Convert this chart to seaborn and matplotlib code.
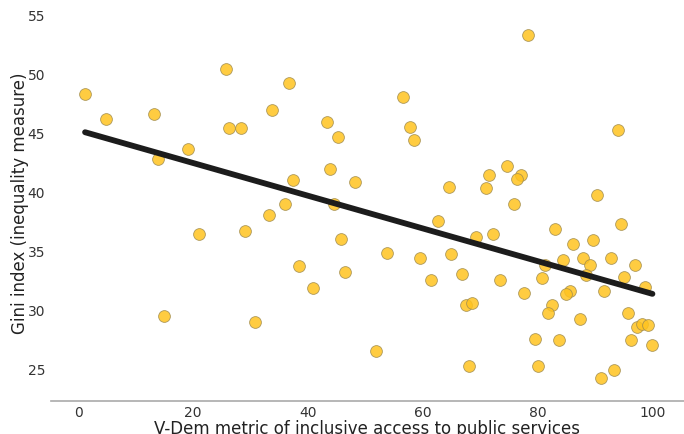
import numpy as np
import pandas as pd
import matplotlib
matplotlib.use("Agg")
import matplotlib.pyplot as plt
import seaborn as sns

# V-Dem inclusive access to public services vs. Gini index
access = [1.2, 4.8, 13.2, 13.9, 19.2, 25.8, 26.3, 28.4, 36.7, 33.7, 43.3, 45.2,
          56.6, 57.8, 58.4, 43.9, 37.4, 48.2, 36.1, 44.5, 33.2, 64.5, 62.6,
          78.3, 94.0, 74.7, 71.6, 77.1, 76.5, 71.1, 90.4, 75.9,
          21.0, 15.0, 29.0, 45.8, 53.7, 59.6, 64.9, 38.5, 46.4, 40.9, 61.4,
          30.8, 51.9, 94.5, 69.3, 72.2, 83.1, 86.1, 89.7, 84.4, 87.9, 92.8,
          81.3, 89.2, 96.9, 66.9, 73.4, 80.7, 88.5, 95.1, 98.7, 77.7, 85.6,
          84.9, 91.5, 67.5, 68.6, 82.5, 81.9, 95.7, 87.4, 97.4, 98.1, 99.3,
          79.5, 83.7, 96.3, 100.0, 68.1, 80.1, 93.3, 91.0]
gini = [48.3, 46.2, 46.6, 42.8, 43.6, 50.4, 45.4, 45.4, 49.2, 46.9, 45.9, 44.6,
        48.0, 45.5, 44.4, 41.9, 41.0, 40.8, 39.0, 39.0, 38.0, 40.4, 37.5,
        53.3, 45.2, 42.2, 41.4, 41.4, 41.1, 40.3, 39.7, 39.0,
        36.4, 29.5, 36.7, 36.0, 34.8, 34.4, 34.7, 33.7, 33.2, 31.8, 32.5,
        29.0, 26.5, 37.3, 36.2, 36.4, 36.8, 35.6, 35.9, 34.2, 34.4, 34.4,
        33.8, 33.8, 33.8, 33.0, 32.5, 32.7, 32.9, 32.8, 31.9, 31.4, 31.6,
        31.3, 31.6, 30.4, 30.6, 30.4, 29.7, 29.7, 29.2, 28.5, 28.8, 28.7,
        27.5, 27.4, 27.4, 27.0, 25.2, 25.2, 24.9, 24.2]

df = pd.DataFrame({"access": access, "gini": gini})

sns.set_theme(style="white")
plt.rcParams["font.family"] = ["DejaVu Sans"]

fig, ax = plt.subplots(figsize=(6.84, 4.35), dpi=100)
sns.regplot(
    data=df, x="access", y="gini", ci=None, ax=ax,
    scatter_kws=dict(s=72, color="#ffc31f", alpha=0.85,
                     edgecolor="#a08c50", linewidths=0.6),
    line_kws=dict(color="#1c1c1c", linewidth=4.2),
)

ax.set_xlim(-4.8, 105.5)
ax.set_ylim(22.24, 56.0)
ax.set_xticks([0, 20, 40, 60, 80, 100])
ax.set_yticks([25, 30, 35, 40, 45, 50, 55])
ax.set_xlabel("V-Dem metric of inclusive access to public services",
              fontsize=12, color="#222222", labelpad=0)
ax.set_ylabel("Gini index (inequality measure)", fontsize=12,
              color="#222222", labelpad=-1)
ax.tick_params(axis="both", labelsize=10, labelcolor="#333333",
               length=2, width=0.6, color="#999999", pad=2)
ax.tick_params(axis="x", direction="in", pad=3)

for side in ["top", "right", "left"]:
    ax.spines[side].set_visible(False)
ax.spines["bottom"].set_color("#aaaaaa")
ax.spines["bottom"].set_linewidth(1.2)

fig.subplots_adjust(left=0.074, right=1.0, bottom=0.0752, top=0.991)
fig.savefig("out.png", dpi=100)
